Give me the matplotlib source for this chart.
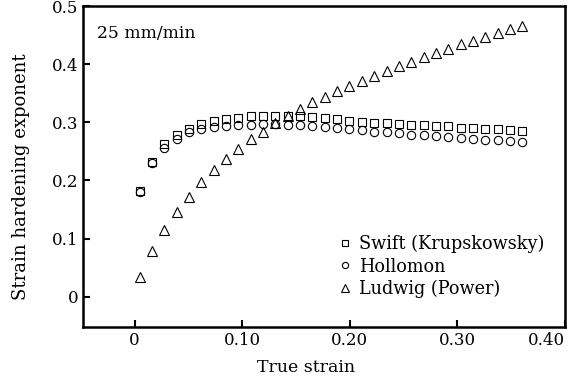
import matplotlib
matplotlib.use("Agg")
import matplotlib.pyplot as plt

plt.rcParams['font.family'] = ['DejaVu Serif']

# true strain of each evaluation point
strain = [0.0047 + 0.01147 * i for i in range(32)]

swift = [0.182, 0.232, 0.262, 0.279, 0.289, 0.297, 0.302, 0.306, 0.308, 0.310,
         0.311, 0.311, 0.311, 0.310, 0.309, 0.307, 0.305, 0.303, 0.301, 0.299,
         0.298, 0.297, 0.296, 0.295, 0.294, 0.293, 0.291, 0.290, 0.289, 0.288,
         0.287, 0.285]
hollomon = [0.180, 0.230, 0.255, 0.271, 0.283, 0.288, 0.292, 0.294, 0.295, 0.296,
            0.297, 0.297, 0.296, 0.296, 0.294, 0.292, 0.290, 0.288, 0.286, 0.284,
            0.2825, 0.281, 0.279, 0.278, 0.276, 0.275, 0.273, 0.272, 0.270, 0.269,
            0.267, 0.266]
ludwig = [0.034, 0.079, 0.114, 0.145, 0.172, 0.197, 0.218, 0.237, 0.254, 0.271,
          0.284, 0.298, 0.311, 0.323, 0.335, 0.344, 0.354, 0.363, 0.371, 0.380,
          0.389, 0.397, 0.404, 0.412, 0.420, 0.426, 0.434, 0.440, 0.447, 0.453,
          0.460, 0.466]

xticks = [0, 0.10, 0.20, 0.30, 0.40]
xtick_labels = ['0', '0.10', '0.20', '0.30', '0.40']
yticks = [0, 0.1, 0.2, 0.3, 0.4, 0.5]
ytick_labels = ['0', '0.1', '0.2', '0.3', '0.4', '0.5']

fig = plt.figure(figsize=(5.74, 3.80), dpi=100)
ax = fig.add_axes([0.1446, 0.1395, 0.8397, 0.8447])

mk = dict(linestyle='none', markerfacecolor='none', markeredgecolor='black',
          markeredgewidth=0.8)
ax.plot(strain, swift, marker='s', markersize=5.5, label='Swift (Krupskowsky)', **mk)
ax.plot(strain, hollomon, marker='o', markersize=6, label='Hollomon', **mk)
ax.plot(strain, ludwig, marker='^', markersize=7, label='Ludwig (Power)', **mk)

ax.set_xlim(-0.048, 0.40)
ax.set_ylim(-0.052, 0.5)
ax.set_xticks(xticks)
ax.set_xticklabels(xtick_labels)
ax.set_yticks(yticks)
ax.set_yticklabels(ytick_labels)
ax.tick_params(direction='in', length=5, width=1.5, labelsize=12, top=False, right=False)
ax.get_xticklabels()[-1].set_horizontalalignment('right')
for s in ax.spines.values():
    s.set_linewidth(1.8)

ax.set_xlabel('True strain', fontsize=12.5)
ax.xaxis.set_label_coords(0.463, -0.10)
ax.set_ylabel('Strain hardening exponent', fontsize=13)
ax.yaxis.set_label_coords(-0.110, 0.469)
ax.text(0.03, 0.94, '25 mm/min', transform=ax.transAxes, fontsize=12.3, va='top')

ax.legend(loc='lower right', bbox_to_anchor=(0.99, 0.04), frameon=False,
          fontsize=12.7, handletextpad=0.3, handlelength=1.0, labelspacing=0.25,
          markerscale=0.75)

fig.savefig('out.png', dpi=100)
